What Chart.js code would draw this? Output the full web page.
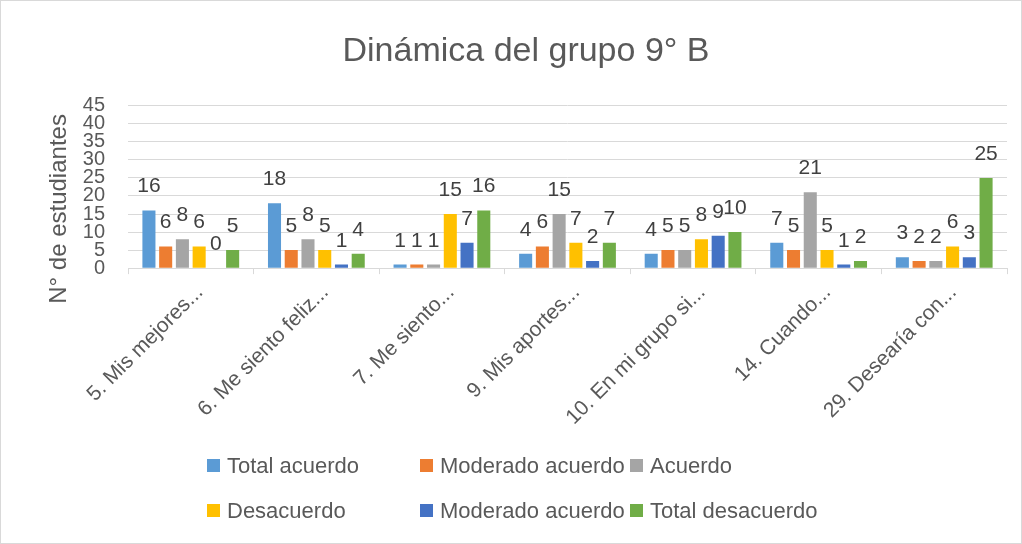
<!DOCTYPE html>
<html>
<head>
<meta charset="utf-8">
<script src="https://cdn.jsdelivr.net/npm/chart.js@4.4.0/dist/chart.umd.min.js"></script>
<style>
  html, body { margin: 0; padding: 0; background: #fff; }
  #wrap { position: relative; width: 1020px; height: 542px; border: 1px solid #d9d9d9; }
  #legend { position: absolute; left: 206px; top: 442px; display: grid;
            grid-template-columns: 213px 210px auto; grid-auto-rows: 45px;
            font-family: "Liberation Sans", Arial, sans-serif; font-size: 22px; color: #595959; }
  #legend .item { display: flex; align-items: center; }
  #legend .box { width: 13px; height: 13px; margin-right: 7px; }
</style>
</head>
<body>
<div id="wrap">
  <canvas id="chart" width="1020" height="542"></canvas>
  <div id="legend"></div>
</div>
<script>
// --- Data ---
const categories = ['5. Mis mejores...', '6. Me siento feliz...', '7. Me siento...', '9. Mis aportes...',
  '10. En mi grupo si...', '14. Cuando...', '29. Desearía con...'];
const seriesNames = ['Total acuerdo', 'Moderado acuerdo', 'Acuerdo', 'Desacuerdo', 'Moderado acuerdo', 'Total desacuerdo'];
const totalAcuerdo     = [16, 18, 1, 4, 4, 7, 3];
const moderadoAcuerdo  = [6, 5, 1, 6, 5, 5, 2];
const acuerdo          = [8, 8, 1, 15, 5, 21, 2];
const desacuerdo       = [6, 5, 15, 7, 8, 5, 6];
const moderadoAcuerdo2 = [0, 1, 7, 2, 9, 1, 3];
const totalDesacuerdo  = [5, 4, 16, 7, 10, 2, 25];
const yTicks = [0, 5, 10, 15, 20, 25, 30, 35, 40, 45];
const yTitle = 'N° de estudiantes';

const colors = ['#5B9BD5', '#ED7D31', '#A5A5A5', '#FFC000', '#4472C4', '#70AD47'];
const values = [totalAcuerdo, moderadoAcuerdo, acuerdo, desacuerdo, moderadoAcuerdo2, totalDesacuerdo];

const FONT = '"Liberation Sans", Arial, sans-serif';

// --- Value labels above each bar + y axis title (sits a bit low, like the original) ---
const barLabels = {
  id: 'barLabels',
  afterDatasetsDraw(chart) {
    const ctx = chart.ctx;
    const area = chart.chartArea;
    ctx.save();
    ctx.font = '21px ' + FONT;
    ctx.fillStyle = '#404040';
    ctx.textAlign = 'center';
    ctx.textBaseline = 'alphabetic';
    chart.data.datasets.forEach((ds, i) => {
      chart.getDatasetMeta(i).data.forEach((bar, j) => {
        ctx.fillText(String(ds.data[j]), bar.x, bar.y - 18);
      });
    });

    ctx.translate(area.left - 69, (area.top + area.bottom) / 2 + 22);
    ctx.rotate(-Math.PI / 2);
    ctx.font = '24px ' + FONT;
    ctx.fillStyle = '#595959';
    ctx.textBaseline = 'middle';
    ctx.fillText(yTitle, 0, 0);
    ctx.restore();
  }
};

const chart = new Chart(document.getElementById('chart').getContext('2d'), {
  type: 'bar',
  data: {
    labels: categories,
    datasets: seriesNames.map((name, i) => ({
      label: name,
      data: values[i],
      backgroundColor: colors[i],
      categoryPercentage: 0.8,
      barPercentage: 0.78
    }))
  },
  options: {
    responsive: false,
    animation: false,
    layout: { padding: { left: 44, right: 14, top: 0, bottom: 107 } },
    plugins: {
      legend: { display: false },
      tooltip: { enabled: false },
      title: {
        display: true,
        text: 'Dinámica del grupo 9° B',
        color: '#595959',
        font: { family: FONT, size: 34, weight: 'normal' },
        padding: { top: 30, bottom: 34 }
      }
    },
    scales: {
      x: {
        grid: { drawOnChartArea: false, color: '#d9d9d9', tickLength: 6, offset: true },
        border: { color: '#d9d9d9' },
        ticks: {
          color: '#595959', font: { family: FONT, size: 21 },
          minRotation: 45, maxRotation: 45, autoSkip: false, padding: 6, labelOffset: 9
        }
      },
      y: {
        min: 0, max: 45,
        afterBuildTicks: axis => { axis.ticks = yTicks.map(v => ({ value: v })); },
        afterFit: axis => { axis.width = 83; },
        grid: { color: '#d9d9d9', drawTicks: false },
        border: { display: false },
        ticks: { color: '#595959', font: { family: FONT, size: 20 }, padding: 23, autoSkip: false }
      }
    }
  },
  plugins: [barLabels]
});

// --- Legend (three columns, two rows) ---
const legendEl = document.getElementById('legend');
chart.data.datasets.forEach(ds => {
  const item = document.createElement('div');
  item.className = 'item';
  const box = document.createElement('span');
  box.className = 'box';
  box.style.background = ds.backgroundColor;
  const txt = document.createElement('span');
  txt.textContent = ds.label;
  item.appendChild(box);
  item.appendChild(txt);
  legendEl.appendChild(item);
});
</script>
</body>
</html>
